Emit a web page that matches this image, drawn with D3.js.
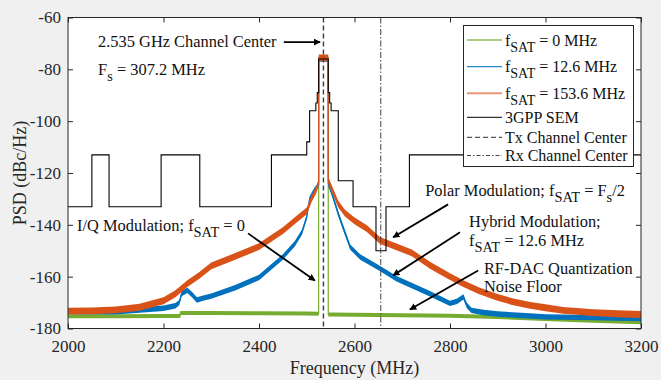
<!DOCTYPE html>
<html>
<head>
<meta charset="utf-8">
<script src="https://cdn.jsdelivr.net/npm/d3@7"></script>
<style>
  body { margin: 0; background: #f0f0f0; }
  svg { display: block; }
  svg text { font-family: "Liberation Serif", "DejaVu Serif", serif; }
</style>
</head>
<body>
<svg id="chart" width="661" height="380"></svg>
<script>
// PSD traces (MHz, dBc/Hz)
const freqGreen = [2000, 2100, 2200, 2234.9, 2235, 2300, 2400, 2500, 2524.9, 2525, 2545, 2545.1, 2600, 2700, 2800, 2900, 3000, 3100, 3200];
const psdGreen = [-175.3, -175.3, -175.2, -175.2, -174, -174, -174.1, -174.2, -174.3, -76, -76, -174.6, -174.7, -174.9, -175.1, -175.6, -176.3, -177, -177.6];

const freqBlue = [2000, 2100, 2200, 2225, 2233, 2238, 2250, 2260, 2270, 2285, 2300, 2350, 2400, 2450, 2475, 2490, 2500, 2506, 2515, 2524.9, 2525, 2545, 2545.1, 2552, 2566, 2578, 2591, 2612, 2653, 2688, 2758, 2800, 2815, 2828, 2835, 2845, 2870, 2900, 2950, 3000, 3100, 3200];
const psdBlue = [-173.5, -173.6, -172.2, -171.2, -170, -166.5, -165.3, -167, -169, -168.2, -167.5, -164.3, -160.3, -152.4, -147.3, -142.8, -137, -130, -127, -124.5, -76, -76, -124, -127.5, -135.7, -142, -148.6, -152.4, -156.8, -160.8, -166.6, -170.3, -169.5, -167.8, -171, -173, -173.8, -174.4, -175, -175.5, -175.8, -176.2];

const freqOrange = [2000, 2050, 2100, 2150, 2200, 2225, 2250, 2275, 2300, 2350, 2400, 2450, 2475, 2500, 2510, 2520, 2524.9, 2525, 2545, 2545.1, 2550, 2566, 2580, 2600, 2626, 2653, 2688, 2720, 2758, 2800, 2828, 2860, 2898, 2930, 2968, 3000, 3037, 3100, 3150, 3200];
const psdOrange = [-173.3, -173.2, -172.8, -171.8, -169.3, -166.6, -162.7, -159.5, -155.8, -152.2, -148.4, -142.2, -138.4, -134.6, -130, -126.5, -123.5, -75.6, -75.6, -122.8, -125, -132, -135.5, -138.5, -141.5, -146, -148.5, -150.8, -155.6, -160, -162.7, -165.4, -167.9, -169.6, -171.1, -172, -173, -173.9, -174.3, -174.6];

// 3GPP spectrum emission mask: segment start frequencies and levels
const semFreq = [2000, 2050, 2086, 2195, 2276, 2426, 2500, 2506, 2519, 2522, 2525, 2545, 2548, 2551, 2566, 2597, 2645, 2666, 2715, 3200];
const semLevel = [-133, -113, -133, -113, -133, -113, -108, -96, -93, -89, -76, -89, -93, -96, -123, -133, -150, -133, -113, -113];

const txCenter = 2535;
const rxCenter = 2655;

const xTicks = [2000, 2200, 2400, 2600, 2800, 3000, 3200];
const yTicks = [-180, -160, -140, -120, -100, -80, -60];

const margin = { left: 68, right: 20, top: 17.5, bottom: 51.5 };
const width = 661, height = 380;
const serif = "'Liberation Serif', 'DejaVu Serif', serif";
const svg = d3.select("#chart");

const x = d3.scaleLinear().domain([2000, 3200]).range([margin.left, width - margin.right]);
const y = d3.scaleLinear().domain([-180, -60]).range([height - margin.bottom, margin.top]);

svg.append("rect")
  .attr("x", x(2000)).attr("y", y(-60))
  .attr("width", x(3200) - x(2000)).attr("height", y(-180) - y(-60))
  .attr("fill", "#fff");

svg.append("defs").append("clipPath").attr("id", "clip")
  .append("rect")
  .attr("x", x(2000)).attr("y", y(-60))
  .attr("width", x(3200) - x(2000)).attr("height", y(-180) - y(-60));

const plot = svg.append("g").attr("clip-path", "url(#clip)");

// noisy traces: a band around the read value plus a thin line for the steep edges
const series = [
  { f: freqGreen, v: psdGreen, color: "#77AC30", band: 2.0 },
  { f: freqBlue, v: psdBlue, color: "#0072BD", band: 2.7 },
  { f: freqOrange, v: psdOrange, color: "#D95319", band: 3.4 }
];

series.forEach(s => {
  const pts = s.f.map((f, i) => [f, s.v[i]]);
  const area = d3.area()
    .x(d => x(d[0]))
    .y0(d => y(d[1]) + s.band)
    .y1(d => y(d[1]) - s.band);
  plot.append("path").attr("d", area(pts)).attr("fill", s.color);
  const line = d3.line().x(d => x(d[0])).y(d => y(d[1]));
  plot.append("path").attr("d", line(pts))
    .attr("fill", "none").attr("stroke", s.color).attr("stroke-width", 1.2);
});

// SEM
const semPts = semFreq.map((f, i) => [f, semLevel[i]]);
plot.append("path")
  .attr("d", d3.line().curve(d3.curveStepAfter).x(d => x(d[0])).y(d => y(d[1]))(semPts))
  .attr("fill", "none").attr("stroke", "#000").attr("stroke-width", 1.1);

plot.append("line")
  .attr("x1", x(txCenter)).attr("x2", x(txCenter))
  .attr("y1", y(-60)).attr("y2", y(-180))
  .attr("stroke", "#3a3a3a").attr("stroke-width", 1.4).attr("stroke-dasharray", "5,3");

plot.append("line")
  .attr("x1", x(rxCenter)).attr("x2", x(rxCenter))
  .attr("y1", y(-60)).attr("y2", y(-180))
  .attr("stroke", "#444").attr("stroke-width", 1).attr("stroke-dasharray", "6,2,1.5,2");

// axes
const axisColor = "#262626";
function styleAxis(g) {
  g.attr("font-family", serif).attr("font-size", 17);
  g.select(".domain").remove();
  g.selectAll(".tick line").attr("stroke", axisColor);
  g.selectAll(".tick text").attr("fill", axisColor);
}

svg.append("g").attr("transform", `translate(0,${y(-180)})`)
  .call(d3.axisBottom(x).tickValues(xTicks).tickFormat(d => String(d))
    .tickSizeInner(-5).tickSizeOuter(0).tickPadding(11))
  .call(styleAxis);
svg.append("g").attr("transform", `translate(0,${y(-60)})`)
  .call(d3.axisTop(x).tickValues(xTicks).tickSizeInner(-5).tickSizeOuter(0).tickFormat(""))
  .call(styleAxis);
svg.append("g").attr("transform", `translate(${x(2000)},0)`)
  .call(d3.axisLeft(y).tickValues(yTicks).tickFormat(d => String(d))
    .tickSizeInner(-5).tickSizeOuter(0).tickPadding(7))
  .call(styleAxis);
svg.append("g").attr("transform", `translate(${x(3200)},0)`)
  .call(d3.axisRight(y).tickValues(yTicks).tickSizeInner(-5).tickSizeOuter(0).tickFormat(""))
  .call(styleAxis);

svg.append("rect")
  .attr("x", x(2000)).attr("y", y(-60))
  .attr("width", x(3200) - x(2000)).attr("height", y(-180) - y(-60))
  .attr("fill", "none").attr("stroke", axisColor).attr("stroke-width", 1);

svg.append("text")
  .attr("x", (x(2000) + x(3200)) / 2).attr("y", 374)
  .attr("text-anchor", "middle").attr("fill", axisColor)
  .attr("font-family", serif).attr("font-size", 18)
  .text("Frequency (MHz)");

svg.append("text")
  .attr("transform", `translate(26,${(y(-60) + y(-180)) / 2}) rotate(-90)`)
  .attr("text-anchor", "middle").attr("fill", axisColor)
  .attr("font-family", serif).attr("font-size", 18)
  .text("PSD (dBc/Hz)");

// annotations
svg.append("defs").append("marker")
  .attr("id", "arrow").attr("viewBox", "0 0 10 10")
  .attr("refX", 9).attr("refY", 5)
  .attr("markerWidth", 7).attr("markerHeight", 7)
  .attr("markerUnits", "userSpaceOnUse").attr("orient", "auto")
  .append("path").attr("d", "M0,0 L10,5 L0,10 z").attr("fill", "#000");

const arrows = [
  [[2452, -69.5], [2528, -69.5]],
  [[2377, -143.3], [2517, -161.5]],
  [[2796, -132.1], [2681, -144.8]],
  [[2821, -142.9], [2681, -159.5]],
  [[2859, -157.6], [2716, -172.7]]
];
arrows.forEach(a => {
  svg.append("line")
    .attr("x1", x(a[0][0])).attr("y1", y(a[0][1]))
    .attr("x2", x(a[1][0])).attr("y2", y(a[1][1]))
    .attr("stroke", "#000").attr("stroke-width", 1.8)
    .attr("marker-end", "url(#arrow)");
});

// label parts: [text, isSubscript]
const labels = [
  { f: 2063, db: -71.5, parts: [["2.535 GHz Channel Center", false]] },
  { f: 2063, db: -82.3, parts: [["F", false], ["s", true], [" = 307.2 MHz", false]] },
  { f: 2019, db: -142.4, parts: [["I/Q Modulation; f", false], ["SAT", true], [" = 0", false]] },
  { f: 2748, db: -129, parts: [["Polar Modulation; f", false], ["SAT", true], [" = F", false], ["s", true], ["/2", false]] },
  { f: 2840, db: -141, parts: [["Hybrid Modulation;", false]] },
  { f: 2840, db: -148.3, parts: [["f", false], ["SAT", true], [" = 12.6 MHz", false]] },
  { f: 2871, db: -158.9, parts: [["RF-DAC Quantization", false]] },
  { f: 2871, db: -166, parts: [["Noise Floor", false]] }
];

function richText(sel, parts, size) {
  let sub = false;
  parts.forEach(p => {
    const t = sel.append("tspan").text(p[0]);
    if (p[1] && !sub) { t.attr("dy", 6).attr("font-size", size - 2); sub = true; }
    else if (p[1]) { t.attr("font-size", size - 2); }
    else if (sub) { t.attr("dy", -6); sub = false; }
  });
}

labels.forEach(l => {
  const t = svg.append("text")
    .attr("x", x(l.f)).attr("y", y(l.db))
    .attr("fill", "#111").attr("font-family", serif).attr("font-size", 16.4);
  richText(t, l.parts, 16.4);
});

// legend
const legendItems = [
  { parts: [["f", false], ["SAT", true], [" = 0 MHz", false]], color: "#77AC30", dash: null, op: 0.6, w: 2 },
  { parts: [["f", false], ["SAT", true], [" = 12.6 MHz", false]], color: "#0072BD", dash: null, op: 0.85, w: 1.2 },
  { parts: [["f", false], ["SAT", true], [" = 153.6 MHz", false]], color: "#D95319", dash: null, op: 0.6, w: 2 },
  { parts: [["3GPP SEM", false]], color: "#000", dash: null, op: 1, w: 1 },
  { parts: [["Tx Channel Center", false]], color: "#555", dash: "5,3", op: 1, w: 1.3 },
  { parts: [["Rx Channel Center", false]], color: "#444", dash: "4,2,1.5,2", op: 1, w: 1 }
];
const legendRowY = [40, 66.7, 93.3, 117.3, 137.3, 155.5];

const legend = svg.append("g");
legend.append("rect")
  .attr("x", 463.5).attr("y", 25.5).attr("width", 170).attr("height", 141)
  .attr("fill", "#fff").attr("stroke", axisColor).attr("stroke-width", 1);

legendItems.forEach((d, i) => {
  const ly = legendRowY[i];
  legend.append("line")
    .attr("x1", 467).attr("x2", 502).attr("y1", ly).attr("y2", ly)
    .attr("stroke", d.color).attr("stroke-opacity", d.op).attr("stroke-width", d.w)
    .attr("stroke-dasharray", d.dash);
  const t = legend.append("text")
    .attr("x", 505).attr("y", ly + 5.5)
    .attr("fill", "#111").attr("font-family", serif).attr("font-size", 16);
  richText(t, d.parts, 16);
});
</script>
</body>
</html>
